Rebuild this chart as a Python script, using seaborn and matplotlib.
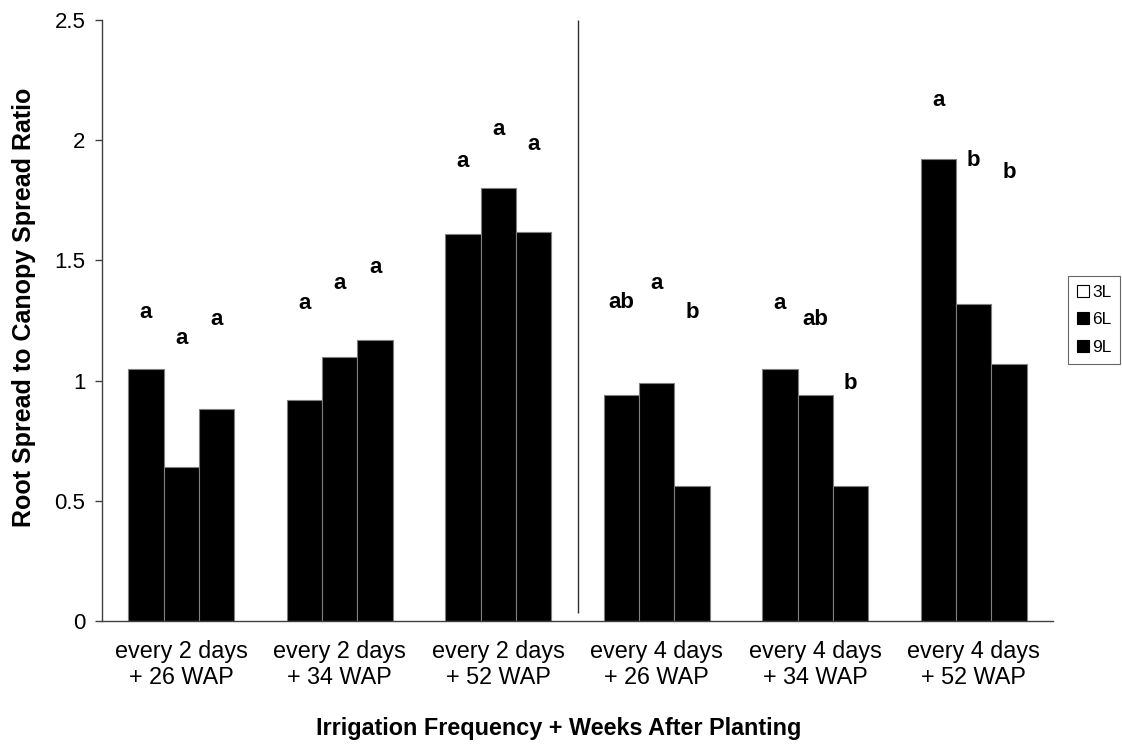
import pandas as pd
import numpy as np

import matplotlib
matplotlib.use("Agg")
import matplotlib.pyplot as plt
from matplotlib.patches import Patch
from matplotlib.ticker import StrMethodFormatter
import seaborn as sns

sns.set_style("white")
plt.rcParams["font.family"] = ["Liberation Sans", "DejaVu Sans"]
plt.rcParams["text.color"] = "black"
plt.rcParams["axes.labelcolor"] = "black"
plt.rcParams["xtick.color"] = "black"
plt.rcParams["ytick.color"] = "black"

groups = [
    "every 2 days\n+ 26 WAP",
    "every 2 days\n+ 34 WAP",
    "every 2 days\n+ 52 WAP",
    "every 4 days\n+ 26 WAP",
    "every 4 days\n+ 34 WAP",
    "every 4 days\n+ 52 WAP",
]
volumes = ["3L", "6L", "9L"]

ratio_3L = [1.05, 0.92, 1.61, 0.94, 1.05, 1.92]
ratio_6L = [0.64, 1.10, 1.80, 0.99, 0.94, 1.32]
ratio_9L = [0.88, 1.17, 1.62, 0.56, 0.56, 1.07]

# mean separation letters and the height they sit at
letters = [
    ["a", "a", "a"],
    ["a", "a", "a"],
    ["a", "a", "a"],
    ["ab", "a", "b"],
    ["a", "ab", "b"],
    ["a", "b", "b"],
]
letter_y = [
    [1.285, 1.174, 1.253],
    [1.322, 1.405, 1.470],
    [1.912, 2.045, 1.983],
    [1.326, 1.405, 1.285],
    [1.322, 1.253, 0.990],
    [2.164, 1.917, 1.865],
]

df = pd.DataFrame({
    "group": groups * 3,
    "volume": np.repeat(volumes, len(groups)),
    "ratio": ratio_3L + ratio_6L + ratio_9L,
})

fig = plt.figure(figsize=(11.22, 7.45), dpi=100)
ax = fig.add_axes([102 / 1122, 1 - 621 / 745, 951 / 1122, 601 / 745])

bar_width = 0.67
sns.barplot(
    data=df,
    x="group",
    y="ratio",
    hue="volume",
    order=groups,
    hue_order=volumes,
    palette=["black", "black", "black"],
    saturation=1,
    width=bar_width,
    edgecolor="#7f7f7f",
    linewidth=0.8,
    errorbar=None,
    legend=False,
    ax=ax,
)

step = bar_width / 3
for i in range(len(groups)):
    for j in range(3):
        ax.text(i + (j - 1) * step, letter_y[i][j], letters[i][j],
                ha="center", va="center", fontsize=16, fontweight="bold",
                color="black")

# separator between the two irrigation frequencies
ax.vlines(2.5, 0.035, 2.5, color="#303030", linewidth=1)

ax.set_xlim(-0.5, 5.5)
ax.set_ylim(0, 2.5)
ax.set_yticks([0, 0.5, 1, 1.5, 2, 2.5])
ax.yaxis.set_major_formatter(StrMethodFormatter("{x:g}"))

ax.tick_params(axis="y", direction="out", length=5, width=1, color="#404040",
               labelsize=16, pad=7, left=True, labelcolor="black")
ax.tick_params(axis="x", length=0, labelsize=16.8, pad=14, labelcolor="black")
for lbl in ax.get_xticklabels():
    lbl.set_linespacing(1.15)

sns.despine(ax=ax)
for side in ["left", "bottom"]:
    ax.spines[side].set_color("#404040")
    ax.spines[side].set_linewidth(1)

ax.set_xlabel("Irrigation Frequency + Weeks After Planting",
              fontsize=16.8, fontweight="bold", color="black")
ax.set_ylabel("Root Spread to Canopy Spread Ratio",
              fontsize=18, fontweight="bold", color="black")
ax.xaxis.set_label_coords(0.48, -0.16)
ax.yaxis.set_label_coords(-0.069, 0.522)

handles = [
    Patch(facecolor="white", edgecolor="black", linewidth=0.8, label="3L"),
    Patch(facecolor="black", edgecolor="black", linewidth=0.8, label="6L"),
    Patch(facecolor="black", edgecolor="black", linewidth=0.8, label="9L"),
]
leg = fig.legend(
    handles=handles,
    loc="upper left",
    bbox_to_anchor=(1068 / 1122, 1 - 276 / 745),
    bbox_transform=fig.transFigure,
    borderaxespad=0,
    fontsize=12.5,
    frameon=True,
    fancybox=False,
    handlelength=0.7,
    handleheight=0.7,
    handletextpad=0.2,
    labelspacing=0.72,
    borderpad=0.5,
)
leg.get_frame().set_edgecolor("#404040")
leg.get_frame().set_linewidth(0.8)

fig.savefig("out.png", dpi=100)
